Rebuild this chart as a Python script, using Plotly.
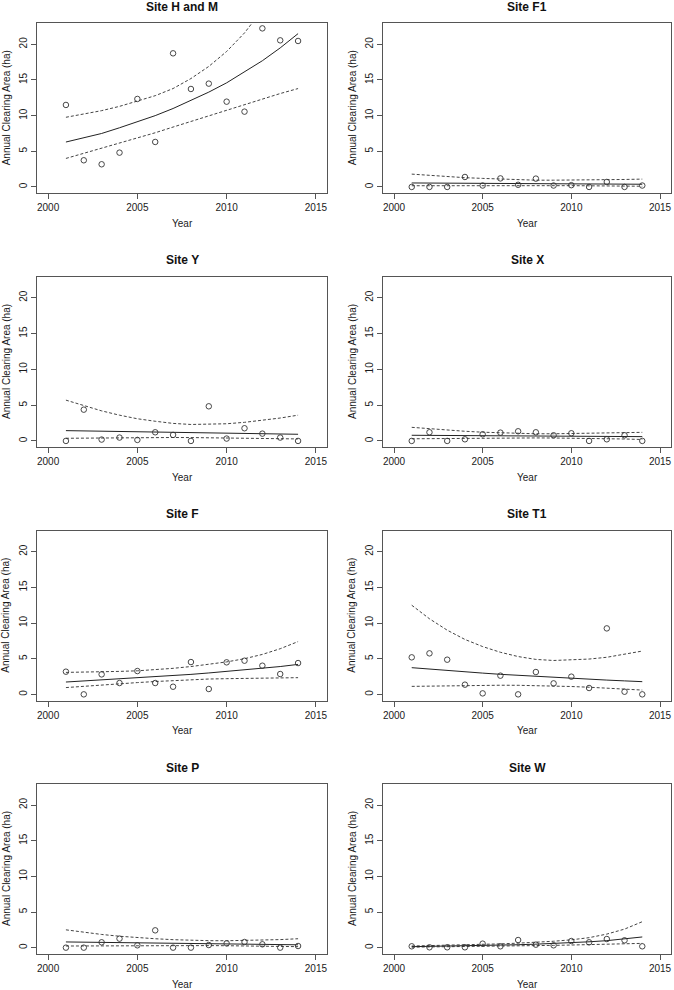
import plotly.graph_objects as go

years = list(range(2001, 2015))
x_ticks = [2000, 2005, 2010, 2015]
y_ticks = [0, 5, 10, 15, 20]

site_titles = ["Site H and M", "Site F1", "Site Y", "Site X",
               "Site F", "Site T1", "Site P", "Site W"]

# observed annual clearing area (ha)
hm_obs = [11.5, 3.74, 3.18, 4.81, 12.34, 6.31, 18.74, 13.74, 14.49, 11.96, 10.56, 22.24, 20.56, 20.47]
f1_obs = [0.0, 0.0, 0.0, 1.4, 0.2, 1.2, 0.3, 1.17, 0.2, 0.25, 0.0, 0.7, 0.0, 0.2]
y_obs = [0.0, 4.37, 0.19, 0.47, 0.14, 1.21, 0.84, 0.0, 4.84, 0.33, 1.77, 1.02, 0.47, 0.0]
x_obs = [0.0, 1.21, 0.0, 0.23, 0.93, 1.16, 1.35, 1.21, 0.79, 1.07, 0.0, 0.23, 0.79, 0.0]
f_obs = [3.18, 0.0, 2.8, 1.59, 3.27, 1.59, 1.07, 4.53, 0.75, 4.49, 4.72, 4.02, 2.85, 4.39]
t1_obs = [5.19, 5.75, 4.86, 1.36, 0.14, 2.62, 0.0, 3.13, 1.54, 2.48, 0.89, 9.25, 0.37, 0.0]
p_obs = [0.0, 0.0, 0.75, 1.26, 0.33, 2.43, 0.0, 0.0, 0.37, 0.6, 0.79, 0.47, 0.0, 0.23]
w_obs = [0.19, 0.05, 0.05, 0.05, 0.56, 0.19, 1.07, 0.42, 0.33, 0.93, 0.75, 1.21, 1.03, 0.19]

# fitted trend
hm_fit = [6.3, 6.9, 7.5, 8.3, 9.1, 10.0, 11.0, 12.1, 13.3, 14.6, 16.1, 17.7, 19.5, 21.5]
f1_fit = [0.56, 0.55, 0.53, 0.52, 0.5, 0.49, 0.47, 0.46, 0.44, 0.43, 0.42, 0.4, 0.39, 0.38]
y_fit = [1.44, 1.4, 1.36, 1.32, 1.28, 1.24, 1.2, 1.16, 1.12, 1.08, 1.05, 1.01, 0.97, 0.93]
x_fit = [0.79, 0.78, 0.76, 0.75, 0.73, 0.72, 0.7, 0.69, 0.67, 0.66, 0.64, 0.63, 0.61, 0.6]
f_fit = [1.73, 1.87, 2.0, 2.15, 2.3, 2.45, 2.6, 2.8, 3.0, 3.2, 3.4, 3.65, 3.9, 4.2]
t1_fit = [3.74, 3.53, 3.34, 3.15, 2.98, 2.81, 2.66, 2.51, 2.37, 2.24, 2.12, 2.0, 1.89, 1.78]
p_fit = [0.8, 0.77, 0.73, 0.7, 0.66, 0.63, 0.6, 0.57, 0.54, 0.51, 0.48, 0.45, 0.42, 0.4]
w_fit = [0.14, 0.17, 0.2, 0.24, 0.29, 0.34, 0.41, 0.49, 0.58, 0.69, 0.82, 0.98, 1.2, 1.5]

# upper confidence band
hm_upper = [9.77, 10.2, 10.7, 11.3, 12.0, 12.8, 13.8, 15.2, 16.9, 19.0, 21.6, 24.6, 28.1, 32.2]
f1_upper = [1.8, 1.6, 1.45, 1.3, 1.2, 1.1, 1.0, 0.95, 0.95, 0.95, 0.97, 1.0, 1.05, 1.1]
y_upper = [5.7, 4.9, 4.2, 3.6, 3.1, 2.75, 2.45, 2.3, 2.3, 2.4, 2.6, 2.85, 3.2, 3.6]
x_upper = [1.9, 1.7, 1.5, 1.35, 1.22, 1.12, 1.05, 1.0, 1.0, 1.02, 1.05, 1.1, 1.15, 1.2]
f_upper = [3.08, 3.1, 3.15, 3.22, 3.3, 3.45, 3.65, 3.9, 4.2, 4.55, 5.0, 5.6, 6.4, 7.4]
t1_upper = [12.5, 10.6, 9.0, 7.7, 6.7, 5.9, 5.3, 4.9, 4.75, 4.8, 4.95, 5.2, 5.6, 6.07]
p_upper = [2.5, 2.15, 1.85, 1.6, 1.4, 1.25, 1.12, 1.03, 0.98, 0.97, 1.0, 1.05, 1.13, 1.25]
w_upper = [0.23, 0.27, 0.32, 0.38, 0.45, 0.53, 0.63, 0.75, 0.9, 1.1, 1.4, 1.9, 2.6, 3.64]

# lower confidence band
hm_lower = [4.0, 4.7, 5.4, 6.1, 6.9, 7.6, 8.4, 9.2, 10.0, 10.8, 11.6, 12.3, 13.1, 13.8]
f1_lower = [0.17, 0.18, 0.2, 0.21, 0.22, 0.22, 0.22, 0.21, 0.2, 0.18, 0.16, 0.14, 0.12, 0.1]
y_lower = [0.37, 0.4, 0.43, 0.45, 0.47, 0.48, 0.48, 0.47, 0.45, 0.43, 0.4, 0.36, 0.32, 0.28]
x_lower = [0.3, 0.33, 0.36, 0.38, 0.4, 0.41, 0.42, 0.42, 0.41, 0.39, 0.36, 0.32, 0.27, 0.2]
f_lower = [0.95, 1.15, 1.35, 1.5, 1.65, 1.8, 1.95, 2.05, 2.15, 2.2, 2.25, 2.3, 2.32, 2.34]
t1_lower = [1.12, 1.17, 1.22, 1.25, 1.27, 1.28, 1.27, 1.24, 1.18, 1.1, 1.0, 0.88, 0.75, 0.6]
p_lower = [0.23, 0.25, 0.27, 0.29, 0.3, 0.31, 0.31, 0.3, 0.29, 0.27, 0.24, 0.21, 0.18, 0.14]
w_lower = [0.07, 0.09, 0.11, 0.13, 0.16, 0.19, 0.23, 0.27, 0.32, 0.37, 0.42, 0.48, 0.54, 0.6]

obs_sets = [hm_obs, f1_obs, y_obs, x_obs, f_obs, t1_obs, p_obs, w_obs]
fit_sets = [hm_fit, f1_fit, y_fit, x_fit, f_fit, t1_fit, p_fit, w_fit]
upper_sets = [hm_upper, f1_upper, y_upper, x_upper, f_upper, t1_upper, p_upper, w_upper]
lower_sets = [hm_lower, f1_lower, y_lower, x_lower, f_lower, t1_lower, p_lower, w_lower]

W, H = 674, 990
col_px = [(37, 327), (383, 671)]
row_px = [(23.3, 193.3), (276.7, 447.3), (530.7, 700.7), (784, 954)]

FONT = "Liberation Sans, Arial, Helvetica, sans-serif"
TXT = "#1a1a1a"
BOX = "#555555"

fig = go.Figure()
layout = dict(
    width=W, height=H,
    margin=dict(l=0, r=0, t=0, b=0),
    paper_bgcolor="white", plot_bgcolor="white",
    showlegend=False,
    font=dict(family=FONT, size=10, color=TXT),
    annotations=[],
)

for i in range(8):
    r, c = divmod(i, 2)
    n = i + 1
    xa = "x" if n == 1 else f"x{n}"
    ya = "y" if n == 1 else f"y{n}"
    x0, x1 = col_px[c]
    y0, y1 = row_px[r]
    xdom = [x0 / W, x1 / W]
    ydom = [1 - y1 / H, 1 - y0 / H]

    fig.add_trace(go.Scatter(x=years, y=upper_sets[i], mode="lines", xaxis=xa, yaxis=ya,
                             line=dict(color="#444444", width=1, dash="3px,2px"), hoverinfo="skip"))
    fig.add_trace(go.Scatter(x=years, y=lower_sets[i], mode="lines", xaxis=xa, yaxis=ya,
                             line=dict(color="#444444", width=1, dash="3px,2px"), hoverinfo="skip"))
    fig.add_trace(go.Scatter(x=years, y=fit_sets[i], mode="lines", xaxis=xa, yaxis=ya,
                             line=dict(color="#222222", width=1), hoverinfo="skip"))
    fig.add_trace(go.Scatter(x=years, y=obs_sets[i], mode="markers", xaxis=xa, yaxis=ya,
                             marker=dict(symbol="circle-open", size=5.5, color="#333333",
                                         line=dict(width=0.9, color="#333333"))))

    axis_common = dict(showgrid=False, zeroline=False, showline=True, mirror=True,
                       linecolor=BOX, linewidth=1, ticks="outside", ticklen=5,
                       tickcolor=BOX, tickwidth=1,
                       tickfont=dict(family=FONT, size=10, color=TXT))
    layout["xaxis" if n == 1 else f"xaxis{n}"] = dict(
        axis_common, domain=xdom, range=[1999.38, 2015.62], tickvals=x_ticks,
        ticklabeloverflow="allow", anchor=ya)
    layout["yaxis" if n == 1 else f"yaxis{n}"] = dict(
        axis_common, domain=ydom, range=[-0.89, 22.95], tickvals=y_ticks,
        tickangle=-90, anchor=xa)

    cx = (x0 + x1) / 2 / W
    layout["annotations"].append(dict(
        text=f"<b>{site_titles[i]}</b>", x=cx, y=1 - (y0 - 16.5) / H,
        xref="paper", yref="paper", showarrow=False, xanchor="center", yanchor="middle",
        font=dict(family=FONT, size=12, color="#111111")))
    layout["annotations"].append(dict(
        text="Year", x=cx, y=1 - (y1 + 30) / H,
        xref="paper", yref="paper", showarrow=False, xanchor="center", yanchor="middle",
        font=dict(family=FONT, size=10, color=TXT)))
    layout["annotations"].append(dict(
        text="Annual Clearing Area (ha)", x=(x0 - 31) / W, y=1 - (y0 + y1) / 2 / H,
        xref="paper", yref="paper", showarrow=False, xanchor="center", yanchor="middle",
        textangle=-90, font=dict(family=FONT, size=10, color=TXT)))

fig.update_layout(**layout)
fig.write_html("out.html", config={"displayModeBar": False},
               post_script="document.body.style.margin='0';document.body.style.padding='0';")
